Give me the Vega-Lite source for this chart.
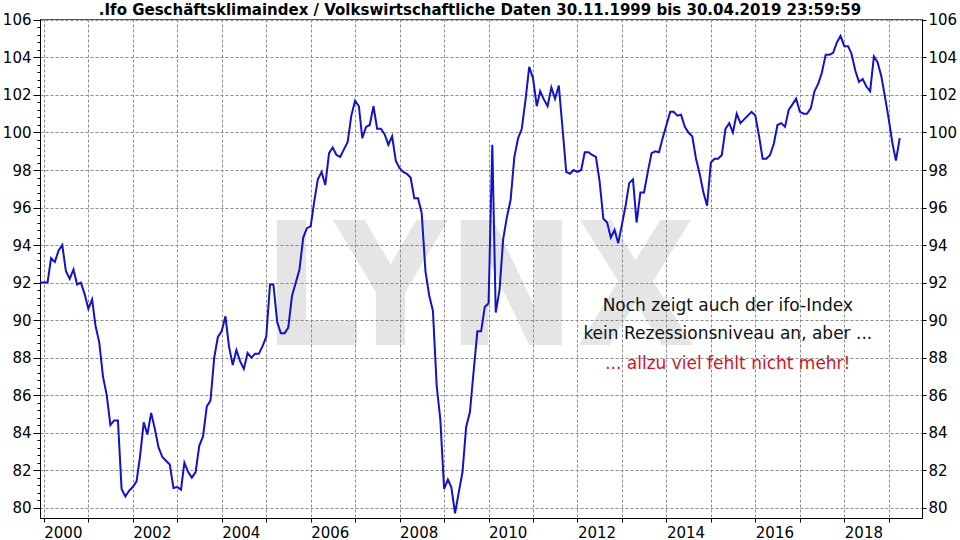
{
  "$schema": "https://vega.github.io/schema/vega-lite/v6.json",
  "width": 882,
  "height": 499,
  "autosize": {"type": "none"},
  "padding": {"left": 40, "top": 19, "right": 38, "bottom": 22},
  "background": "white",
  "config": {
    "view": {"stroke": "#555555", "strokeWidth": 1},
    "axis": {
      "domainColor": "#000000",
      "tickColor": "#000000",
      "labelColor": "#000000",
      "labelFont": "DejaVu Sans",
      "labelFontSize": 15,
      "gridColor": "#8c8c8c",
      "gridDash": [3, 2],
      "gridWidth": 1,
      "labelOverlap": false,
      "labelFlush": false
    }
  },
  "datasets": {
    "ifo": [
      {"d": "1999-12-01", "v": 92.0},
      {"d": "2000-01-01", "v": 92.0}, {"d": "2000-02-01", "v": 92.0}, {"d": "2000-03-01", "v": 93.3}, {"d": "2000-04-01", "v": 93.1},
      {"d": "2000-05-01", "v": 93.7}, {"d": "2000-06-01", "v": 94.0}, {"d": "2000-07-01", "v": 92.6}, {"d": "2000-08-01", "v": 92.2},
      {"d": "2000-09-01", "v": 92.7}, {"d": "2000-10-01", "v": 91.9}, {"d": "2000-11-01", "v": 92.0}, {"d": "2000-12-01", "v": 91.4},
      {"d": "2001-01-01", "v": 90.6}, {"d": "2001-02-01", "v": 91.1}, {"d": "2001-03-01", "v": 89.7}, {"d": "2001-04-01", "v": 88.8},
      {"d": "2001-05-01", "v": 87.0}, {"d": "2001-06-01", "v": 86.0}, {"d": "2001-07-01", "v": 84.4}, {"d": "2001-08-01", "v": 84.65},
      {"d": "2001-09-01", "v": 84.65}, {"d": "2001-10-01", "v": 81.0}, {"d": "2001-11-01", "v": 80.6}, {"d": "2001-12-01", "v": 80.9},
      {"d": "2002-01-01", "v": 81.1}, {"d": "2002-02-01", "v": 81.4}, {"d": "2002-03-01", "v": 82.7}, {"d": "2002-04-01", "v": 84.55},
      {"d": "2002-05-01", "v": 83.9}, {"d": "2002-06-01", "v": 85.05}, {"d": "2002-07-01", "v": 84.2}, {"d": "2002-08-01", "v": 83.2},
      {"d": "2002-09-01", "v": 82.7}, {"d": "2002-10-01", "v": 82.5}, {"d": "2002-11-01", "v": 82.3}, {"d": "2002-12-01", "v": 81.05},
      {"d": "2003-01-01", "v": 81.1}, {"d": "2003-02-01", "v": 80.96}, {"d": "2003-03-01", "v": 82.4}, {"d": "2003-04-01", "v": 81.9},
      {"d": "2003-05-01", "v": 81.6}, {"d": "2003-06-01", "v": 81.9}, {"d": "2003-07-01", "v": 83.3}, {"d": "2003-08-01", "v": 83.8},
      {"d": "2003-09-01", "v": 85.4}, {"d": "2003-10-01", "v": 85.7}, {"d": "2003-11-01", "v": 88.0}, {"d": "2003-12-01", "v": 89.1},
      {"d": "2004-01-01", "v": 89.4}, {"d": "2004-02-01", "v": 90.2}, {"d": "2004-03-01", "v": 88.6}, {"d": "2004-04-01", "v": 87.6},
      {"d": "2004-05-01", "v": 88.4}, {"d": "2004-06-01", "v": 87.8}, {"d": "2004-07-01", "v": 87.4}, {"d": "2004-08-01", "v": 88.25},
      {"d": "2004-09-01", "v": 88.0}, {"d": "2004-10-01", "v": 88.2}, {"d": "2004-11-01", "v": 88.2}, {"d": "2004-12-01", "v": 88.6},
      {"d": "2005-01-01", "v": 89.1}, {"d": "2005-02-01", "v": 91.9}, {"d": "2005-03-01", "v": 91.9}, {"d": "2005-04-01", "v": 89.9},
      {"d": "2005-05-01", "v": 89.3}, {"d": "2005-06-01", "v": 89.3}, {"d": "2005-07-01", "v": 89.6}, {"d": "2005-08-01", "v": 91.3},
      {"d": "2005-09-01", "v": 92.0}, {"d": "2005-10-01", "v": 92.7}, {"d": "2005-11-01", "v": 94.4}, {"d": "2005-12-01", "v": 94.9},
      {"d": "2006-01-01", "v": 95.0}, {"d": "2006-02-01", "v": 96.4}, {"d": "2006-03-01", "v": 97.5}, {"d": "2006-04-01", "v": 97.9},
      {"d": "2006-05-01", "v": 97.2}, {"d": "2006-06-01", "v": 98.9}, {"d": "2006-07-01", "v": 99.2}, {"d": "2006-08-01", "v": 98.8},
      {"d": "2006-09-01", "v": 98.7}, {"d": "2006-10-01", "v": 99.1}, {"d": "2006-11-01", "v": 99.5}, {"d": "2006-12-01", "v": 100.9},
      {"d": "2007-01-01", "v": 101.7}, {"d": "2007-02-01", "v": 101.4}, {"d": "2007-03-01", "v": 99.7}, {"d": "2007-04-01", "v": 100.3},
      {"d": "2007-05-01", "v": 100.4}, {"d": "2007-06-01", "v": 101.4}, {"d": "2007-07-01", "v": 100.2}, {"d": "2007-08-01", "v": 100.2},
      {"d": "2007-09-01", "v": 99.9}, {"d": "2007-10-01", "v": 99.35}, {"d": "2007-11-01", "v": 99.8}, {"d": "2007-12-01", "v": 98.5},
      {"d": "2008-01-01", "v": 98.1}, {"d": "2008-02-01", "v": 97.9}, {"d": "2008-03-01", "v": 97.8}, {"d": "2008-04-01", "v": 97.6},
      {"d": "2008-05-01", "v": 96.5}, {"d": "2008-06-01", "v": 96.5}, {"d": "2008-07-01", "v": 95.7}, {"d": "2008-08-01", "v": 92.6},
      {"d": "2008-09-01", "v": 91.3}, {"d": "2008-10-01", "v": 90.5}, {"d": "2008-11-01", "v": 86.5}, {"d": "2008-12-01", "v": 84.7},
      {"d": "2009-01-01", "v": 81.0}, {"d": "2009-02-01", "v": 81.5}, {"d": "2009-03-01", "v": 81.1}, {"d": "2009-04-01", "v": 79.7},
      {"d": "2009-05-01", "v": 80.8}, {"d": "2009-06-01", "v": 81.9}, {"d": "2009-07-01", "v": 84.3}, {"d": "2009-08-01", "v": 85.1},
      {"d": "2009-09-01", "v": 87.3}, {"d": "2009-10-01", "v": 89.4}, {"d": "2009-11-01", "v": 89.4}, {"d": "2009-12-01", "v": 90.7},
      {"d": "2010-01-01", "v": 90.9}, {"d": "2010-02-01", "v": 99.35}, {"d": "2010-03-01", "v": 90.4}, {"d": "2010-04-01", "v": 91.6},
      {"d": "2010-05-01", "v": 94.3}, {"d": "2010-06-01", "v": 95.5}, {"d": "2010-07-01", "v": 96.4}, {"d": "2010-08-01", "v": 98.7},
      {"d": "2010-09-01", "v": 99.7}, {"d": "2010-10-01", "v": 100.2}, {"d": "2010-11-01", "v": 101.75}, {"d": "2010-12-01", "v": 103.5},
      {"d": "2011-01-01", "v": 102.9}, {"d": "2011-02-01", "v": 101.4}, {"d": "2011-03-01", "v": 102.2}, {"d": "2011-04-01", "v": 101.75},
      {"d": "2011-05-01", "v": 101.4}, {"d": "2011-06-01", "v": 102.4}, {"d": "2011-07-01", "v": 101.8}, {"d": "2011-08-01", "v": 102.5},
      {"d": "2011-09-01", "v": 100.2}, {"d": "2011-10-01", "v": 97.9}, {"d": "2011-11-01", "v": 97.8}, {"d": "2011-12-01", "v": 98.0},
      {"d": "2012-01-01", "v": 97.9}, {"d": "2012-02-01", "v": 98.0}, {"d": "2012-03-01", "v": 98.95}, {"d": "2012-04-01", "v": 98.95},
      {"d": "2012-05-01", "v": 98.8}, {"d": "2012-06-01", "v": 98.7}, {"d": "2012-07-01", "v": 97.4}, {"d": "2012-08-01", "v": 95.4},
      {"d": "2012-09-01", "v": 95.2}, {"d": "2012-10-01", "v": 94.4}, {"d": "2012-11-01", "v": 94.8}, {"d": "2012-12-01", "v": 94.1},
      {"d": "2013-01-01", "v": 95.1}, {"d": "2013-02-01", "v": 96.15}, {"d": "2013-03-01", "v": 97.3}, {"d": "2013-04-01", "v": 97.5},
      {"d": "2013-05-01", "v": 95.2}, {"d": "2013-06-01", "v": 96.8}, {"d": "2013-07-01", "v": 96.8}, {"d": "2013-08-01", "v": 97.9},
      {"d": "2013-09-01", "v": 98.9}, {"d": "2013-10-01", "v": 99.0}, {"d": "2013-11-01", "v": 98.95}, {"d": "2013-12-01", "v": 99.7},
      {"d": "2014-01-01", "v": 100.4}, {"d": "2014-02-01", "v": 101.1}, {"d": "2014-03-01", "v": 101.1}, {"d": "2014-04-01", "v": 100.9},
      {"d": "2014-05-01", "v": 100.95}, {"d": "2014-06-01", "v": 100.3}, {"d": "2014-07-01", "v": 100.0}, {"d": "2014-08-01", "v": 99.8},
      {"d": "2014-09-01", "v": 98.6}, {"d": "2014-10-01", "v": 97.8}, {"d": "2014-11-01", "v": 96.8}, {"d": "2014-12-01", "v": 96.1},
      {"d": "2015-01-01", "v": 98.4}, {"d": "2015-02-01", "v": 98.6}, {"d": "2015-03-01", "v": 98.6}, {"d": "2015-04-01", "v": 98.8},
      {"d": "2015-05-01", "v": 100.2}, {"d": "2015-06-01", "v": 100.5}, {"d": "2015-07-01", "v": 100.0}, {"d": "2015-08-01", "v": 101.0},
      {"d": "2015-09-01", "v": 100.5}, {"d": "2015-10-01", "v": 100.7}, {"d": "2015-11-01", "v": 100.9}, {"d": "2015-12-01", "v": 101.1},
      {"d": "2016-01-01", "v": 100.9}, {"d": "2016-02-01", "v": 99.8}, {"d": "2016-03-01", "v": 98.6}, {"d": "2016-04-01", "v": 98.6},
      {"d": "2016-05-01", "v": 98.8}, {"d": "2016-06-01", "v": 99.4}, {"d": "2016-07-01", "v": 100.4}, {"d": "2016-08-01", "v": 100.5},
      {"d": "2016-09-01", "v": 100.3}, {"d": "2016-10-01", "v": 101.2}, {"d": "2016-11-01", "v": 101.5}, {"d": "2016-12-01", "v": 101.8},
      {"d": "2017-01-01", "v": 101.1}, {"d": "2017-02-01", "v": 101.0}, {"d": "2017-03-01", "v": 101.0}, {"d": "2017-04-01", "v": 101.3},
      {"d": "2017-05-01", "v": 102.2}, {"d": "2017-06-01", "v": 102.6}, {"d": "2017-07-01", "v": 103.2}, {"d": "2017-08-01", "v": 104.15},
      {"d": "2017-09-01", "v": 104.15}, {"d": "2017-10-01", "v": 104.25}, {"d": "2017-11-01", "v": 104.8}, {"d": "2017-12-01", "v": 105.15},
      {"d": "2018-01-01", "v": 104.6}, {"d": "2018-02-01", "v": 104.6}, {"d": "2018-03-01", "v": 104.2}, {"d": "2018-04-01", "v": 103.3},
      {"d": "2018-05-01", "v": 102.7}, {"d": "2018-06-01", "v": 102.85}, {"d": "2018-07-01", "v": 102.45}, {"d": "2018-08-01", "v": 102.2},
      {"d": "2018-09-01", "v": 104.05}, {"d": "2018-10-01", "v": 103.75}, {"d": "2018-11-01", "v": 103.0}, {"d": "2018-12-01", "v": 101.9},
      {"d": "2019-01-01", "v": 100.7}, {"d": "2019-02-01", "v": 99.4}, {"d": "2019-03-01", "v": 98.5}, {"d": "2019-04-01", "v": 99.7}
    ]
  },
  "resolve": {"scale": {"x": "shared", "y": "shared"}, "axis": {"y": "independent"}},
  "layer": [
    {
      "data": {"values": [{"label": "LYNX"}]},
      "mark": {"type": "text", "font": "DejaVu Sans Condensed, Liberation Sans, sans-serif", "fontSize": 172, "fontWeight": "bold", "color": "#808080", "opacity": 0.2, "align": "center", "baseline": "alphabetic"},
      "encoding": {
        "text": {"field": "label"},
        "x": {"datum": {"year": 2009, "month": 10, "date": 15, "utc": true}, "type": "temporal",
              "scale": {"type": "utc", "domain": [{"year": 1999, "month": 12, "date": 1, "utc": true}, {"year": 2019, "month": 10, "date": 1, "utc": true}]}},
        "y": {"datum": 88.67, "type": "quantitative",
              "scale": {"domain": [79.45, 106.05], "nice": false, "zero": false},
              "axis": {"orient": "right", "title": null, "values": [80, 82, 84, 86, 88, 90, 92, 94, 96, 98, 100, 102, 104, 106], "format": "d", "tickSize": 4, "labelPadding": 2, "grid": false, "domain": true}}
      }
    },
    {
      "data": {"name": "ifo"},
      "mark": {"type": "line", "color": "#1212c6", "strokeWidth": 2},
      "encoding": {
        "x": {"field": "d", "type": "temporal",
              "scale": {"type": "utc", "domain": [{"year": 1999, "month": 12, "date": 1, "utc": true}, {"year": 2019, "month": 10, "date": 1, "utc": true}]},
              "axis": {"title": null, "grid": true, "tickSize": 4, "labelAlign": "left", "labelBaseline": "top", "labelPadding": 3,
                       "values": [
                         {"year": 2000, "month": 1, "date": 1, "utc": true}, {"year": 2001, "month": 1, "date": 1, "utc": true},
                         {"year": 2002, "month": 1, "date": 1, "utc": true}, {"year": 2003, "month": 1, "date": 1, "utc": true},
                         {"year": 2004, "month": 1, "date": 1, "utc": true}, {"year": 2005, "month": 1, "date": 1, "utc": true},
                         {"year": 2006, "month": 1, "date": 1, "utc": true}, {"year": 2007, "month": 1, "date": 1, "utc": true},
                         {"year": 2008, "month": 1, "date": 1, "utc": true}, {"year": 2009, "month": 1, "date": 1, "utc": true},
                         {"year": 2010, "month": 1, "date": 1, "utc": true}, {"year": 2011, "month": 1, "date": 1, "utc": true},
                         {"year": 2012, "month": 1, "date": 1, "utc": true}, {"year": 2013, "month": 1, "date": 1, "utc": true},
                         {"year": 2014, "month": 1, "date": 1, "utc": true}, {"year": 2015, "month": 1, "date": 1, "utc": true},
                         {"year": 2016, "month": 1, "date": 1, "utc": true}, {"year": 2017, "month": 1, "date": 1, "utc": true},
                         {"year": 2018, "month": 1, "date": 1, "utc": true}, {"year": 2019, "month": 1, "date": 1, "utc": true}
                       ],
                       "labelExpr": "utcyear(datum.value) % 2 == 0 ? utcFormat(datum.value, '%Y') : ''"}},
        "y": {"field": "v", "type": "quantitative",
              "scale": {"domain": [79.45, 106.05], "nice": false, "zero": false},
              "axis": {"orient": "left", "title": null, "grid": true, "labelPadding": 2,
                       "values": [80, 80.4, 80.8, 81.2, 81.6, 82, 82.4, 82.8, 83.2, 83.6, 84, 84.4, 84.8, 85.2, 85.6, 86, 86.4, 86.8, 87.2, 87.6, 88, 88.4, 88.8, 89.2, 89.6, 90, 90.4, 90.8, 91.2, 91.6, 92, 92.4, 92.8, 93.2, 93.6, 94, 94.4, 94.8, 95.2, 95.6, 96, 96.4, 96.8, 97.2, 97.6, 98, 98.4, 98.8, 99.2, 99.6, 100, 100.4, 100.8, 101.2, 101.6, 102, 102.4, 102.8, 103.2, 103.6, 104, 104.4, 104.8, 105.2, 105.6, 106],
                       "labelExpr": "abs(datum.value % 2) < 0.01 ? format(datum.value, 'd') : ''",
                       "tickSize": {"condition": {"test": "abs(datum.value % 2) < 0.01", "value": 7}, "value": 3},
                       "gridOpacity": {"condition": {"test": "abs(datum.value % 2) < 0.01", "value": 1}, "value": 0}}}
      }
    },
    {
      "data": {"values": [{"label": ".Ifo Geschäftsklimaindex / Volkswirtschaftliche Daten 30.11.1999 bis 30.04.2019 23:59:59"}]},
      "mark": {"type": "text", "font": "DejaVu Sans", "fontSize": 15, "fontWeight": "bold", "color": "#000000", "align": "center", "baseline": "alphabetic", "clip": false},
      "encoding": {
        "text": {"field": "label"},
        "x": {"datum": {"year": 2009, "month": 10, "date": 23, "utc": true}, "type": "temporal",
              "scale": {"type": "utc", "domain": [{"year": 1999, "month": 12, "date": 1, "utc": true}, {"year": 2019, "month": 10, "date": 1, "utc": true}]}},
        "y": {"datum": 106.24, "type": "quantitative", "scale": {"domain": [79.45, 106.05], "nice": false, "zero": false}, "axis": null}
      }
    },
    {
      "data": {"values": [{"label": "Noch zeigt auch der ifo-Index"}]},
      "mark": {"type": "text", "font": "DejaVu Sans", "fontSize": 17, "color": "#111111", "align": "center", "baseline": "middle"},
      "encoding": {
        "text": {"field": "label"},
        "x": {"datum": {"year": 2015, "month": 5, "date": 20, "utc": true}, "type": "temporal"},
        "y": {"datum": 90.75, "type": "quantitative", "axis": null}
      }
    },
    {
      "data": {"values": [{"label": "kein Rezessionsniveau an, aber ..."}]},
      "mark": {"type": "text", "font": "DejaVu Sans", "fontSize": 17, "color": "#111111", "align": "center", "baseline": "middle"},
      "encoding": {
        "text": {"field": "label"},
        "x": {"datum": {"year": 2015, "month": 5, "date": 20, "utc": true}, "type": "temporal"},
        "y": {"datum": 89.26, "type": "quantitative", "axis": null}
      }
    },
    {
      "data": {"values": [{"label": "... allzu viel fehlt nicht mehr!"}]},
      "mark": {"type": "text", "font": "DejaVu Sans", "fontSize": 17, "color": "#d0141e", "align": "center", "baseline": "middle"},
      "encoding": {
        "text": {"field": "label"},
        "x": {"datum": {"year": 2015, "month": 5, "date": 20, "utc": true}, "type": "temporal"},
        "y": {"datum": 87.66, "type": "quantitative", "axis": null}
      }
    }
  ]
}
